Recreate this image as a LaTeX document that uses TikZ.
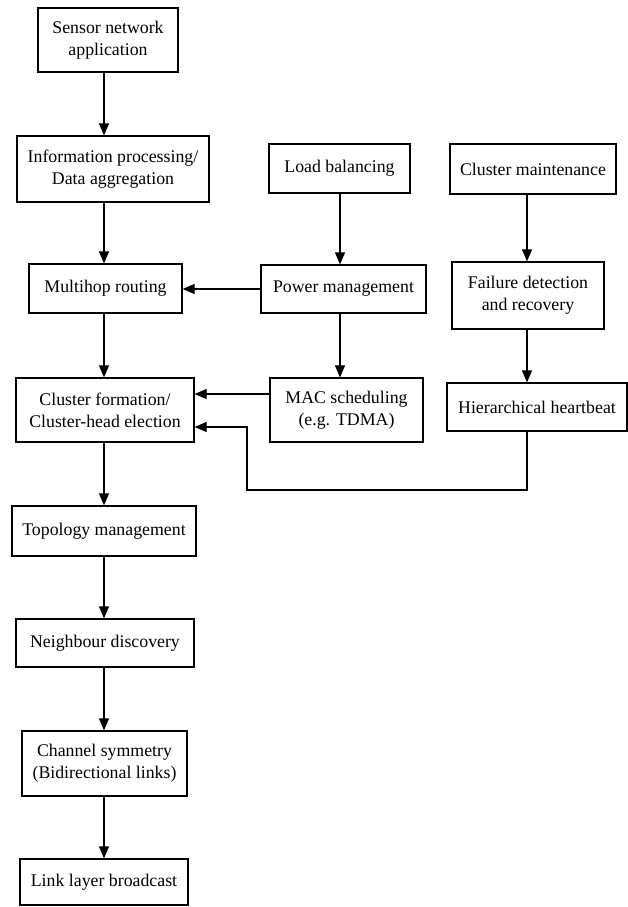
\documentclass[tikz,border=0pt]{standalone}
\usepackage{fontspec}
\setmainfont{Liberation Serif}
\usetikzlibrary{arrows.meta}
\begin{document}
\begin{tikzpicture}[x=1pt,y=-1pt,
  box/.style={draw,line width=1.2pt,align=center,inner sep=0pt,
    font=\fontsize{17.8}{22}\selectfont},
  arr/.style={line width=1.1pt,-{Triangle[length=12pt,width=10pt]}},
  ln/.style={line width=1.1pt}]
\useasboundingbox (0,0) rectangle (628,907);
% nodes
\node[box,minimum width=140pt,minimum height=64pt] (app) at (108,40) {Sensor network\\application};
\node[box,minimum width=192pt,minimum height=66pt] (info) at (113,169) {Information processing/\\Data aggregation};
\node[box,minimum width=153pt,minimum height=49pt] (multi) at (105.5,288.5) {Multihop routing};
\node[box,minimum width=141pt,minimum height=49pt] (load) at (339.5,168.5) {Load balancing};
\node[box,minimum width=166pt,minimum height=50pt] (maint) at (533,169) {Cluster maintenance};
\node[box,minimum width=165pt,minimum height=48pt] (power) at (343.5,289) {Power management};
\node[box,minimum width=152pt,minimum height=67pt] (fail) at (528,295.5) {Failure detection\\and recovery};
\node[box,minimum width=153pt,minimum height=64pt] (mac) at (346.5,410) {MAC scheduling\\(e.g. TDMA)};
\node[box,minimum width=180pt,minimum height=48pt] (heart) at (537,407) {Hierarchical heartbeat};
\node[box,minimum width=178pt,minimum height=64pt] (form) at (105,410) {Cluster formation/\\Cluster-head election};
\node[box,minimum width=184pt,minimum height=50pt] (topo) at (104,531) {Topology management};
\node[box,minimum width=178pt,minimum height=48pt] (neigh) at (105,643) {Neighbour discovery};
\node[box,minimum width=165pt,minimum height=65pt] (chan) at (104.5,763.5) {Channel symmetry\\(Bidirectional links)};
\node[box,minimum width=168pt,minimum height=46pt] (link) at (104,882) {Link layer broadcast};
% guide coordinates
\coordinate (sp) at (104,0);
\coordinate (lb) at (340,0);
\coordinate (rc) at (527,0);
\coordinate (macy) at (0,394);
\coordinate (hby) at (0,427);
\coordinate (c1) at (527,490);
\coordinate (c2) at (247,490);
\coordinate (c3) at (247,427);
% main spine
\draw[arr] (app.south -| sp) -- (info.north -| sp);
\draw[arr] (info.south -| sp) -- (multi.north -| sp);
\draw[arr] (multi.south -| sp) -- (form.north -| sp);
\draw[arr] (form.south -| sp) -- (topo.north -| sp);
\draw[arr] (topo.south -| sp) -- (neigh.north -| sp);
\draw[arr] (neigh.south -| sp) -- (chan.north -| sp);
\draw[arr] (chan.south -| sp) -- (link.north -| sp);
% middle column
\draw[arr] (load.south -| lb) -- (power.north -| lb);
\draw[arr] (power.south -| lb) -- (mac.north -| lb);
\draw[arr] (power.west) -- (multi.east |- power.west);
\draw[arr] (mac.west |- macy) -- (form.east |- macy);
% right column
\draw[arr] (maint.south -| rc) -- (fail.north -| rc);
\draw[arr] (fail.south -| rc) -- (heart.north -| rc);
\draw[arr] (heart.south -| rc) -- (c1) -- (c2) -- (c3) -- (form.east |- hby);
\end{tikzpicture}
\end{document}
